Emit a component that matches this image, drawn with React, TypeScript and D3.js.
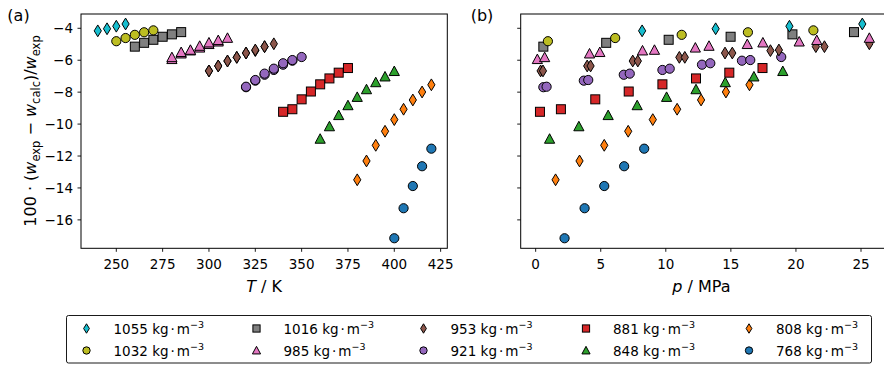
import React from "react";
import * as d3 from "d3";

// ---------- data ----------
const densityLabels = ["1055", "1032", "1016", "985", "953", "921", "881", "848", "808", "768"];
const seriesColors = ["#17becf", "#bcbd22", "#7f7f7f", "#e377c2", "#8c564b", "#9467bd", "#d62728", "#2ca02c", "#ff7f0e", "#1f77b4"];
const seriesMarkers = ["diamond", "circle", "square", "triangle", "diamond", "circle", "square", "triangle", "diamond", "circle"];

const T_1055 = [240, 245, 250, 255];
const p_1055 = [8.18, 13.83, 19.5, 25.1];
const d_1055 = [-4.16, -4.03, -3.87, -3.73];

const T_1032 = [250, 255, 260, 265, 270];
const p_1032 = [0.94, 6.11, 11.22, 16.31, 21.34];
const d_1032 = [-4.81, -4.61, -4.41, -4.25, -4.13];

const T_1016 = [260, 265, 270, 275, 280, 285];
const p_1016 = [0.59, 5.42, 10.22, 14.98, 19.73, 24.46];
const d_1016 = [-5.15, -4.91, -4.72, -4.53, -4.38, -4.24];

const T_985 = [280, 280, 285, 285, 290, 290, 295, 295, 300, 300, 305, 305, 310];
const p_985 = [0.13, 0.69, 4.14, 4.93, 8.21, 9.13, 12.27, 13.32, 16.26, 17.46, 20.25, 21.6, 25.64];
const d_985 = [-5.94, -5.82, -5.59, -5.5, -5.4, -5.36, -5.22, -5.11, -5.0, -4.9, -4.84, -4.75, -4.61];

const T_953 = [300, 300, 305, 305, 310, 310, 315, 315, 320, 320, 325, 325, 330, 330, 335];
const p_953 = [0.38, 0.56, 3.96, 4.22, 7.46, 7.85, 11.04, 11.46, 14.55, 15.11, 18.04, 18.69, 21.53, 22.19, 25.64];
const d_953 = [-6.67, -6.67, -6.36, -6.36, -6.05, -6.05, -5.82, -5.82, -5.55, -5.55, -5.4, -5.36, -5.15, -5.15, -4.97];

const T_921 = [320, 320, 325, 325, 330, 330, 335, 335, 340, 340, 345, 345, 350];
const p_921 = [0.59, 0.84, 3.7, 4.04, 6.77, 7.23, 9.74, 10.3, 12.78, 13.42, 15.85, 16.49, 18.87];
const d_921 = [-7.69, -7.66, -7.28, -7.24, -6.91, -6.84, -6.61, -6.53, -6.28, -6.19, -6.03, -5.99, -5.8];

const T_881 = [340, 345, 350, 355, 360, 365, 370, 375];
const p_881 = [0.33, 1.94, 4.58, 7.15, 9.74, 12.32, 14.88, 17.43];
const d_881 = [-9.23, -9.07, -8.45, -7.96, -7.51, -7.14, -6.78, -6.49];

const T_848 = [360, 365, 370, 375, 380, 385, 390, 395, 400];
const p_848 = [1.07, 3.32, 5.57, 7.8, 10.06, 12.32, 14.57, 16.77, 18.99];
const d_848 = [-10.93, -10.15, -9.45, -8.83, -8.31, -7.83, -7.39, -7.03, -6.69];

const T_808 = [380, 385, 390, 395, 400, 405, 410, 415, 420];
const p_808 = [1.53, 3.37, 5.27, 7.11, 9.0, 10.87, 12.71, 14.62, 16.43];
const d_808 = [-13.49, -12.31, -11.33, -10.45, -9.72, -9.07, -8.49, -7.99, -7.54];

const T_768 = [400, 405, 410, 415, 420];
const p_768 = [2.22, 3.76, 5.27, 6.8, 8.34];
const d_768 = [-17.15, -15.27, -13.88, -12.64, -11.54];

const temps = [T_1055, T_1032, T_1016, T_985, T_953, T_921, T_881, T_848, T_808, T_768];
const pressures = [p_1055, p_1032, p_1016, p_985, p_953, p_921, p_881, p_848, p_808, p_768];
const deviations = [d_1055, d_1032, d_1016, d_985, d_953, d_921, d_881, d_848, d_808, d_768];

const xTicksT = [250, 275, 300, 325, 350, 375, 400, 425];
const xTicksP = [0, 5, 10, 15, 20, 25];
const yTicks = [-4, -6, -8, -10, -12, -14, -16];

// ---------- layout ----------
const W = 884;
const H = 367;
const top = 14;
const bottom = 248.3;
const leftA = 81;
const rightA = 447.3;
const leftB = 520.7;
const rightB = 886;
const FONT = "DejaVu Sans, sans-serif";

const yScale = d3.scaleLinear().domain([-17.78, -3.105]).range([bottom, top]);
const xT = d3.scaleLinear().domain([230.95, 428.6]).range([leftA, rightA]);
const xP = d3.scaleLinear().domain([-1.15, 26.92]).range([leftB, rightB]);

function Marker({ type, x, y, color, s = 1 }: { type: string; x: number; y: number; color: string; s?: number }) {
  const common = { fill: color, stroke: "#000", strokeWidth: 1, strokeLinejoin: "miter" as const };
  if (type === "circle") return <circle cx={x} cy={y} r={4.6 * s} {...common} />;
  if (type === "square") return <rect x={x - 4.5 * s} y={y - 4.5 * s} width={9 * s} height={9 * s} {...common} />;
  if (type === "triangle") {
    const pts = [[0, -5.2], [5.1, 4.3], [-5.1, 4.3]].map(([a, b]) => `${x + a * s},${y + b * s}`).join(" ");
    return <polygon points={pts} {...common} />;
  }
  const pts = [[0, -5.9], [3.6, 0], [0, 5.9], [-3.6, 0]].map(([a, b]) => `${x + a * s},${y + b * s}`).join(" ");
  return <polygon points={pts} {...common} />;
}

function Panel({ xs, xScale, ticks, l, r, showY, clipId }: any) {
  const order = d3.range(densityLabels.length).reverse();
  return (
    <g>
      <defs>
        <clipPath id={clipId}>
          <rect x={l} y={top} width={r - l} height={bottom - top} />
        </clipPath>
      </defs>
      <g clipPath={`url(#${clipId})`}>
        {order.map((i) =>
          xs[i].map((v: number, j: number) => (
            <Marker key={`${i}-${j}`} type={seriesMarkers[i]} x={xScale(v)} y={yScale(deviations[i][j])} color={seriesColors[i]} />
          ))
        )}
      </g>
      <rect x={l} y={top} width={r - l} height={bottom - top} fill="none" stroke="#000" strokeWidth={1} />
      {ticks.map((t: number) => (
        <g key={t}>
          <line x1={xScale(t)} x2={xScale(t)} y1={bottom} y2={bottom + 3.5} stroke="#000" strokeWidth={0.9} />
          <text x={xScale(t)} y={bottom + 21} textAnchor="middle" fontSize={13.5} fontFamily={FONT} fill="#000">
            {t}
          </text>
        </g>
      ))}
      {yTicks.map((t) => (
        <g key={t}>
          <line x1={l - 3.5} x2={l} y1={yScale(t)} y2={yScale(t)} stroke="#000" strokeWidth={0.9} />
          {showY && (
            <text x={l - 8} y={yScale(t) + 5} textAnchor="end" fontSize={13.5} fontFamily={FONT} fill="#000">
              {"\u2212" + Math.abs(t)}
            </text>
          )}
        </g>
      ))}
    </g>
  );
}

export default function App() {
  const colX = [86.5, 256.5, 423.5, 586, 749];
  const textDx = 27;
  const rowY = [328.5, 350.5];
  return (
    <svg
      width={W}
      height={H}
      viewBox={`0 0 ${W} ${H}`}
      style={{ position: "fixed", left: 0, top: 0, background: "#fff" }}
      fontFamily={FONT}
    >
      <rect x={0} y={0} width={W} height={H} fill="#fff" />
      <Panel xs={temps} xScale={xT} ticks={xTicksT} l={leftA} r={rightA} showY={true} clipId="clipA" />
      <Panel xs={pressures} xScale={xP} ticks={xTicksP} l={leftB} r={rightB} showY={false} clipId="clipB" />

      <text x={18.5} y={21} fontSize={16} textAnchor="middle" fill="#000">(a)</text>
      <text x={482} y={21} fontSize={16} textAnchor="middle" fill="#000">(b)</text>

      <text x={(leftA + rightA) / 2} y={292} fontSize={16} textAnchor="middle" fill="#000">
        <tspan fontStyle="italic">T</tspan>
        <tspan> / K</tspan>
      </text>
      <text x={(leftB + 882) / 2} y={292} fontSize={16} textAnchor="middle" fill="#000">
        <tspan fontStyle="italic">p</tspan>
        <tspan> / MPa</tspan>
      </text>

      <text transform="translate(36,131) rotate(-90)" fontSize={16} textAnchor="middle" fill="#000">
        <tspan>100 · (</tspan>
        <tspan fontStyle="italic">w</tspan>
        <tspan fontSize={11.5} dy={4}>exp</tspan>
        <tspan dy={-4}> − </tspan>
        <tspan fontStyle="italic">w</tspan>
        <tspan fontSize={11.5} dy={4}>calc</tspan>
        <tspan dy={-4}>)/</tspan>
        <tspan fontStyle="italic">w</tspan>
        <tspan fontSize={11.5} dy={4}>exp</tspan>
      </text>

      <rect x={66.5} y={315.5} width={805} height={47.5} fill="#fff" stroke="#000" strokeWidth={0.9} rx={2} />
      {densityLabels.map((lab, i) => {
        const col = Math.floor(i / 2);
        const row = i % 2;
        const y = rowY[row];
        return (
          <g key={lab}>
            <Marker type={seriesMarkers[i]} x={colX[col]} y={y} color={seriesColors[i]} s={0.8} />
            <text x={colX[col] + textDx} y={y + 5} fontSize={13.5} fill="#000">
              <tspan>{lab} kg</tspan>
              <tspan dx={2}>·</tspan>
              <tspan dx={2}>m</tspan>
              <tspan fontSize={9.5} dy={-6}>−3</tspan>
            </text>
          </g>
        );
      })}
    </svg>
  );
}
